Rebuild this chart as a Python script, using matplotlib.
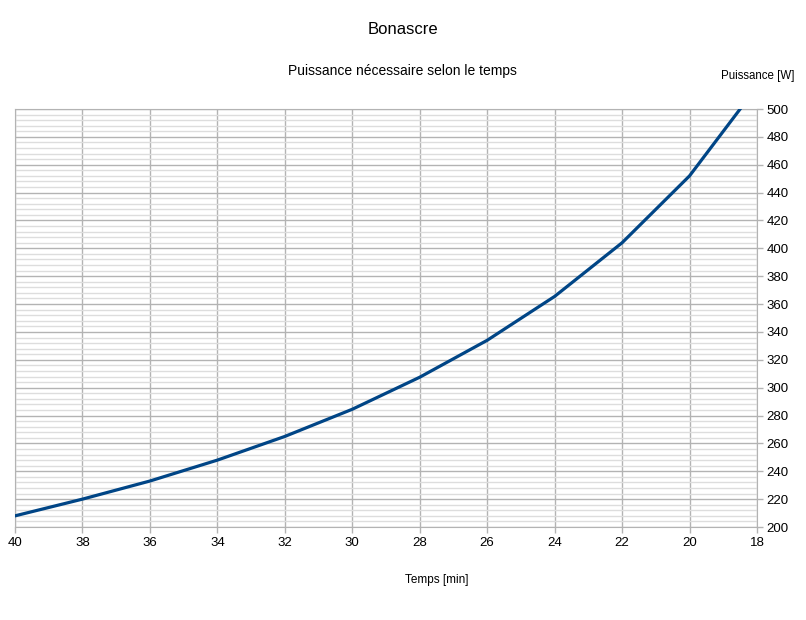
import matplotlib.pyplot as plt
from matplotlib.ticker import MultipleLocator

plt.rcParams['font.family'] = ['Liberation Sans', 'DejaVu Sans']

temps = [40, 38, 36, 34, 32, 30, 28, 26, 24, 22, 20, 18.5]
puissance = [208, 220, 233, 248, 265, 284.5, 307.5, 334, 365.5, 404, 452, 500]


def draw_chart(filename):
    fig = plt.figure(figsize=(8.06, 6.2), dpi=100)
    ax = fig.add_axes([15 / 806, 1 - 527 / 620, 742 / 806, 418 / 620])
    ax.plot(temps, puissance, color='#004586', linewidth=2.3, solid_joinstyle='round', zorder=3)

    ax.set_xlim(40, 18)
    ax.set_ylim(200, 500)
    ax.xaxis.set_major_locator(MultipleLocator(2))
    ax.yaxis.set_major_locator(MultipleLocator(20))
    ax.yaxis.set_minor_locator(MultipleLocator(4))
    ax.grid(True, which='major', color='#b3b3b3', linewidth=1.0)
    ax.grid(True, which='minor', axis='y', color='#dddddd', linewidth=1.0)
    ax.set_axisbelow(True)

    ax.yaxis.tick_right()
    ax.tick_params(axis='both', which='major', direction='out', length=4, width=1,
                   color='#b3b3b3', labelsize=9.5, labelcolor='#000000', pad=3)
    ax.tick_params(axis='y', which='minor', length=0)
    for side in ['left', 'top', 'right', 'bottom']:
        ax.spines[side].set_color('#b3b3b3')

    fig.text(403 / 806, 1 - 30 / 620, 'Bonascre', ha='center', va='center', fontsize=12)
    fig.text(402 / 806, 1 - 71 / 620, 'Puissance nécessaire selon le temps',
             ha='center', va='center', fontsize=10)
    fig.text(758 / 806, 1 - 76 / 620, 'Puissance [W]', ha='center', va='center', fontsize=8.3)
    fig.text(437 / 806, 1 - 580 / 620, 'Temps [min]', ha='center', va='center', fontsize=8.5)

    fig.savefig(filename, dpi=100)


if __name__ == "__main__":
    draw_chart('out.png')
